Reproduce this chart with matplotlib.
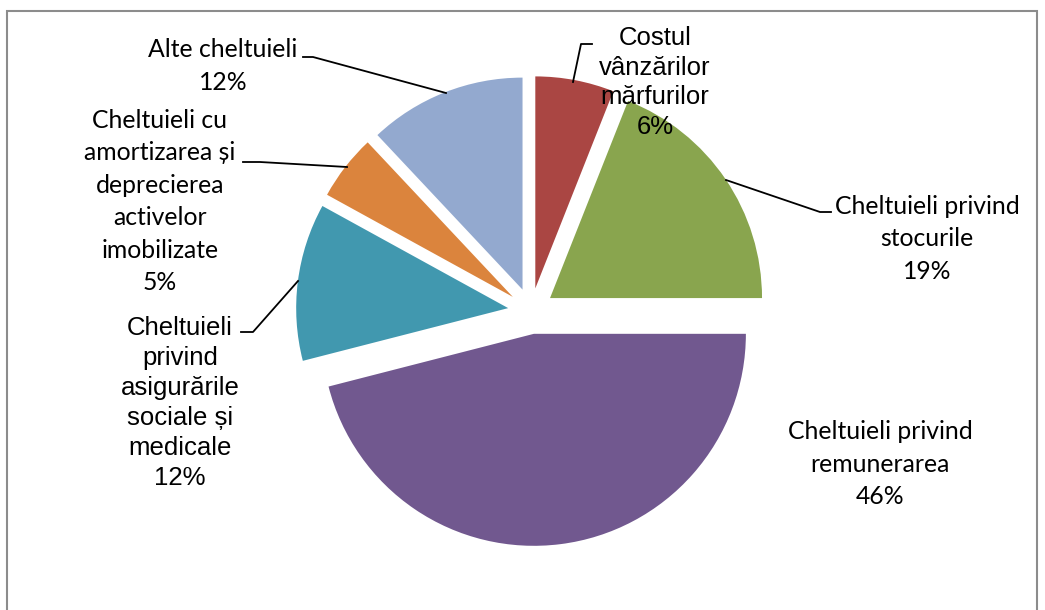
import matplotlib
matplotlib.use("Agg")
import matplotlib.pyplot as plt
from matplotlib.patches import Rectangle

categories = [
    "Costul\nvânzărilor\nmărfurilor",
    "Cheltuieli privind\nstocurile",
    "Cheltuieli privind\nremunerarea",
    "Cheltuieli\nprivind\nasigurările\nsociale și\nmedicale",
    "Cheltuieli cu\namortizarea și\ndeprecierea\nactivelor\nimobilizate",
    "Alte cheltuieli",
]
values = [6, 19, 46, 12, 5, 12]
colors = ["#AA4643", "#89A54E", "#71588F", "#4198AF", "#DB843D", "#93A9CF"]

W, H = 1045, 610
fig = plt.figure(figsize=(W / 100, H / 100), dpi=100)
ax = fig.add_axes([0, 0, 1, 1])

def Y(y):
    return H - y

cx, cy, R = 531, 311, 212
ax.pie(values, colors=colors, startangle=90, counterclock=False,
       explode=[23] * len(values), radius=R, center=(cx, Y(cy)),
       wedgeprops=dict(linewidth=0))

ax.set_xlim(0, W)
ax.set_ylim(0, H)
ax.set_aspect("equal")
ax.axis("off")

# chart border
ax.add_patch(Rectangle((7, Y(640)), 1030, 629, fill=False, edgecolor="#8c8c8c", lw=1.5, zorder=0))

calibri = dict(family=["Lato", "DejaVu Sans"], fontsize=17.8, linespacing=1.5)
arial = dict(family=["Liberation Sans", "DejaVu Sans"], fontsize=18.5, linespacing=1.31)

# label positions (block centres, pixel coords) and styles
label_pos = [(655, 82.5), (927, 239), (880, 464), (180, 403), (160, 201.5), (223, 66)]
label_style = [arial, calibri, calibri, arial, calibri, calibri]
for cat, v, (x, y), st in zip(categories, values, label_pos, label_style):
    ax.text(x, Y(y), f"{cat}\n{v}%", ha="center", va="center", color="black", **st)

# leader lines
leaders = [
    [(592, 44), (581, 44), (573, 82)],
    [(726, 180), (820, 212), (831, 212)],
    [(298, 281), (253, 332), (241, 332)],
    [(243, 162), (260, 162), (347, 167)],
    [(303, 57), (313, 57), (446, 93)],
]
for pts in leaders:
    xs = [p[0] for p in pts]
    ys = [Y(p[1]) for p in pts]
    ax.plot(xs, ys, color="black", lw=1.3)

fig.savefig("out.png", dpi=100)
